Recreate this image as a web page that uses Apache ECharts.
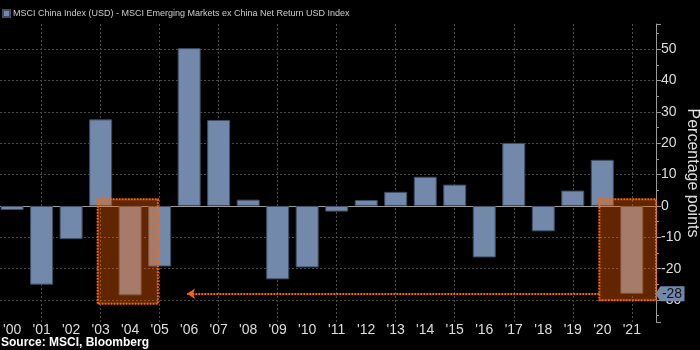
<!DOCTYPE html>
<html>
<head>
<meta charset="utf-8">
<script src="https://cdn.jsdelivr.net/npm/echarts@6/dist/echarts.min.js"></script>
<style>
  html, body { margin: 0; padding: 0; background: #000; }
  #chart { width: 700px; height: 350px; }
</style>
</head>
<body>
<div id="chart"></div>
<script>
// yearly return gap, MSCI China minus MSCI EM ex China (percentage points)
const years = [2000, 2001, 2002, 2003, 2004, 2005, 2006, 2007, 2008, 2009, 2010,
  2011, 2012, 2013, 2014, 2015, 2016, 2017, 2018, 2019, 2020, 2021]
const diffs = [-1.3, -25.1, -10.6, 27.6, -28.5, -19.3, 50.3, 27.4, 2.0, -23.4, -19.6,
  -1.8, 1.9, 4.5, 9.3, 6.8, -16.4, 20.1, -8.1, 4.9, 14.7, -28.0]

// highlighted ranges: [x from, x to, y top, y bottom]
const highlights = [
  [2002.9, 2004.94, 2.1, -31.2],
  [2019.9, 2021.82, 2.1, -30.1]
]
// dotted arrow from the 2021 box back to 2006
const arrowFrom = [2019.9, -28]
const arrowTo = [2005.93, -28]
const lastValue = -28

const seriesName = 'MSCI China Index (USD) - MSCI Emerging Markets ex China Net Return USD Index'

const chart = echarts.init(document.getElementById('chart'))

chart.setOption({
  backgroundColor: '#000',
  animation: false,
  textStyle: { fontFamily: 'Liberation Sans' },
  title: {
    text: 'Source: MSCI, Bloomberg',
    left: 0,
    bottom: 0,
    padding: [0, 0, 1, 1],
    textStyle: { color: '#fff', fontSize: 12, fontWeight: 'bold' }
  },
  legend: {
    left: 2,
    top: 9,
    padding: 0,
    icon: 'rect',
    itemWidth: 7,
    itemHeight: 7,
    itemGap: 3,
    textStyle: { color: '#ccc', fontSize: 9, padding: [0, 0, 0, -2] },
    data: [seriesName]
  },
  grid: {
    left: 0,
    right: 44,
    top: 24,
    bottom: 28,
    outerBoundsMode: 'none'
  },
  xAxis: {
    type: 'value',
    min: 1999.59,
    max: 2021.82,
    minInterval: 1,
    maxInterval: 1,
    axisLine: { show: true, lineStyle: { color: '#999' } },
    axisTick: { show: false },
    axisLabel: {
      color: '#ddd',
      fontSize: 14,
      margin: 1,
      formatter: v => Number.isInteger(v) ? "'" + String(v).slice(2) : ''
    },
    splitLine: {
      show: true,
      showMinLine: false,
      showMaxLine: false,
      lineStyle: { color: ['transparent', '#4a4a4a'], type: [2, 2] }
    }
  },
  yAxis: {
    type: 'value',
    position: 'right',
    min: -37,
    max: 58,
    minInterval: 10,
    maxInterval: 10,
    name: 'Percentage points',
    nameLocation: 'middle',
    nameRotate: -90,
    nameGap: 28,
    nameMoveOverlap: false,
    nameTextStyle: { color: '#ddd', fontSize: 16 },
    axisLine: { show: true, lineStyle: { color: '#999' } },
    axisTick: { show: true, length: 5, lineStyle: { color: '#999' } },
    minorTick: { show: true, splitNumber: 2, length: 3, lineStyle: { color: '#999' } },
    axisLabel: {
      color: '#ddd',
      fontSize: 14,
      margin: 5,
      formatter: v => v % 10 === 0 ? String(v) : ''
    },
    splitLine: {
      show: true,
      showMinLine: false,
      showMaxLine: false,
      lineStyle: { color: '#4a4a4a', type: [2, 2] }
    }
  },
  series: [
    {
      name: seriesName,
      type: 'bar',
      barWidth: 23,
      itemStyle: { color: '#7289ab', borderColor: '#3e4d63', borderWidth: 1 },
      data: years.map((y, i) => [y, diffs[i]])
    },
    {
      name: 'highlight',
      type: 'line',
      data: [],
      z: 5,
      markArea: {
        silent: true,
        z: 10,
        itemStyle: {
          color: 'rgba(255, 100, 0, 0.38)',
          borderColor: '#ff6600',
          borderWidth: 2,
          borderType: [2, 1]
        },
        data: highlights.map(h => [{ coord: [h[0], h[2]] }, { coord: [h[1], h[3]] }])
      },
      markLine: {
        silent: true,
        z: 11,
        symbol: ['none', 'arrow'],
        symbolSize: [8, 8],
        label: { show: false },
        lineStyle: { color: '#ff6600', width: 2, type: [2, 1] },
        data: [[{ coord: arrowFrom }, { coord: arrowTo }]]
      },
      markPoint: {
        silent: true,
        z: 12,
        symbol: 'path://M0,5 L5,0 L30,0 L30,10 L5,10 Z',
        symbolSize: [29, 15],
        symbolOffset: [14, 0],
        itemStyle: { color: '#7289ab' },
        label: {
          show: true,
          color: '#111',
          fontSize: 14,
          offset: [2, 0],
          formatter: String(lastValue)
        },
        data: [{ coord: [2021.82, lastValue] }]
      }
    }
  ]
})
</script>
</body>
</html>
